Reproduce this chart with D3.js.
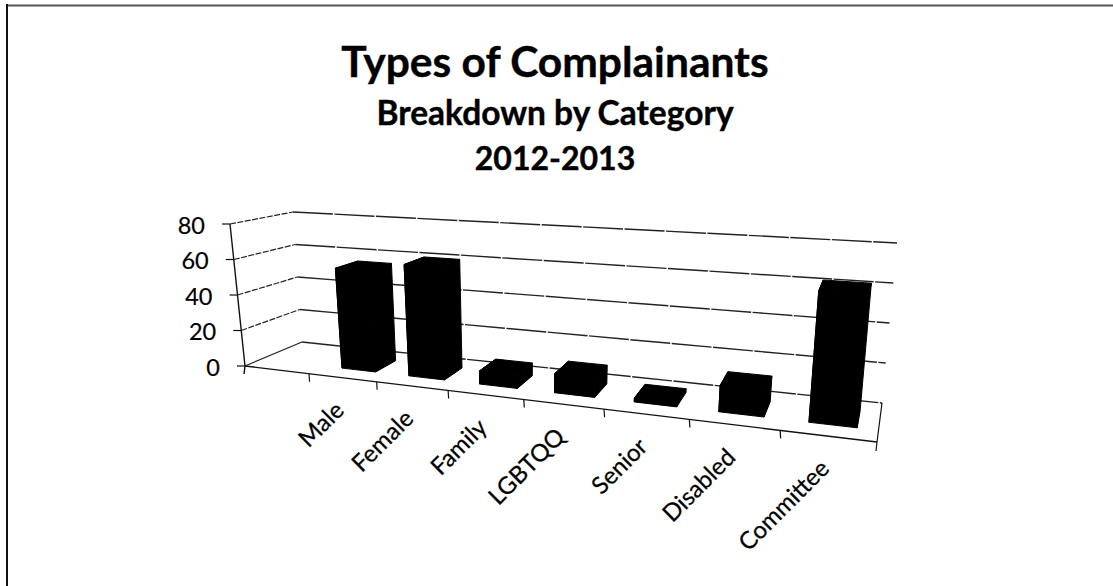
<!DOCTYPE html>
<html><head><meta charset="utf-8">
<script src="https://cdn.jsdelivr.net/npm/d3@7"></script>
<style>html,body{margin:0;padding:0;background:#fff}svg{display:block}text{font-family:Lato,"Open Sans",sans-serif;fill:#000}</style>
</head><body><svg id="c" width="1113" height="586"></svg>
<script>
const categories = ["", "Male", "Female", "Family", "LGBTQQ", "Senior", "Disabled", "Committee"];
const values = [null, 56, 61, 7, 10, 2, 13, 63];
const valueTicks = [0, 20, 40, 60, 80];
const titles = ["Types of Complainants", "Breakdown by Category", "2012-2013"];

const svg = d3.select("#c");
svg.append("path").attr("d","M7,5.5H1113").attr("fill","none").attr("stroke","#555").attr("stroke-width",2);
svg.append("path").attr("d","M7,4V586").attr("fill","none").attr("stroke","#111").attr("stroke-width",2);

const vScale = d3.scaleLinear().domain([0,80]).range([0,1]);
const uScale = d3.scaleBand().domain(categories).range([0,1]);
const k = 1.267;
const warp = u => u/(u + k*(1-u));
const corners = {
  f:{l:[[245,366],[230,224]], r:[[877,442],[893,267]]},
  b:{l:[[302,342],[293,212]], r:[[882,403],[897,243]]}
};
const lerp=(a,b,t)=>a+(b-a)*t;
function P(u,d,v){
  const w=warp(u), out=[];
  for(let i=0;i<2;i++){
    const f0=lerp(corners.f.l[0][i],corners.f.r[0][i],w), f1=lerp(corners.f.l[1][i],corners.f.r[1][i],w);
    const b0=lerp(corners.b.l[0][i],corners.b.r[0][i],w), b1=lerp(corners.b.l[1][i],corners.b.r[1][i],w);
    out.push(lerp(lerp(f0,f1,v),lerp(b0,b1,v),d));
  }
  return out;
}
const line=d3.line();
const g=svg.append("g");

valueTicks.forEach(t=>{
  const v=vScale(t);
  g.append("path").attr("d",line([P(0,0,v),P(0,1,v)])).attr("fill","none").attr("stroke","#222").attr("stroke-width",1.2).attr("stroke-dasharray",t===0?null:"6 1.5");
  g.append("path").attr("d",line([P(0,1,v),P(1,1,v)])).attr("fill","none").attr("stroke","#222").attr("stroke-width",1.4).attr("stroke-dasharray","40 1.5");
});
g.append("path").attr("d",line([P(0,0,0),P(1,0,0)])).attr("fill","none").attr("stroke","#111").attr("stroke-width",1.4);
g.append("path").attr("d",line([P(1,1,0),P(1,0,0),[876,451]])).attr("fill","none").attr("stroke","#111").attr("stroke-width",1.2);
g.append("path").attr("d",line([P(0,0,1),P(0,0,0),[244,374]])).attr("fill","none").attr("stroke","#111").attr("stroke-width",1.4);
valueTicks.forEach(t=>{
  const p=P(0,0,vScale(t));
  g.append("path").attr("d",line([[p[0]-8,p[1]],p])).attr("stroke","#111").attr("stroke-width",1.2).attr("fill","none");
  g.append("text").attr("x",p[0]-25).attr("y",p[1]+9.5).attr("text-anchor","end").attr("font-size",23.5).attr("stroke","#000").attr("stroke-width",.2).text(t);
});
categories.forEach((c,i)=>{
  if(i===0) return;
  const p=P(uScale(c),0,0);
  g.append("path").attr("d",line([p,[p[0]+0.5,p[1]+8]])).attr("stroke","#111").attr("stroke-width",1.2).attr("fill","none");
});
const d0=.3,d1=.72,b0=.27,bw=.51;
categories.forEach((c,i)=>{
  if(values[i]==null) return;
  const st=uScale.bandwidth(), u0=uScale(c)+b0*st, u1=u0+bw*st, v=vScale(values[i]);
  const faces=[
    [P(u0,d0,0),P(u1,d0,0),P(u1,d0,v),P(u0,d0,v)],
    [P(u1,d0,0),P(u1,d1,0),P(u1,d1,v),P(u1,d0,v)],
    [P(u0,d0,0),P(u0,d1,0),P(u0,d1,v),P(u0,d0,v)],
    [P(u0,d0,v),P(u1,d0,v),P(u1,d1,v),P(u0,d1,v)]
  ];
  faces.forEach(f=>g.append("path").attr("d",line(f)+"Z").attr("fill","#000").attr("stroke","#000").attr("stroke-linejoin","round"));
});
categories.forEach((c,i)=>{
  if(i===0) return;
  const p=P(uScale(c)+uScale.bandwidth()*.5,0,0);
  g.append("text").attr("transform",`translate(${p[0]+3},${p[1]+34}) rotate(-45)`).attr("text-anchor","end").attr("font-size",24).attr("stroke","#000").attr("stroke-width",.25).text(c);
});
const tf=[[77,42.5],[125,33.5],[170,32]];
titles.forEach((t,i)=>svg.append("text").attr("x",555).attr("y",tf[i][0]).attr("text-anchor","middle").attr("font-size",tf[i][1]).attr("font-weight",700).attr("stroke","#000").attr("stroke-width",.4).text(t));
</script></body></html>
